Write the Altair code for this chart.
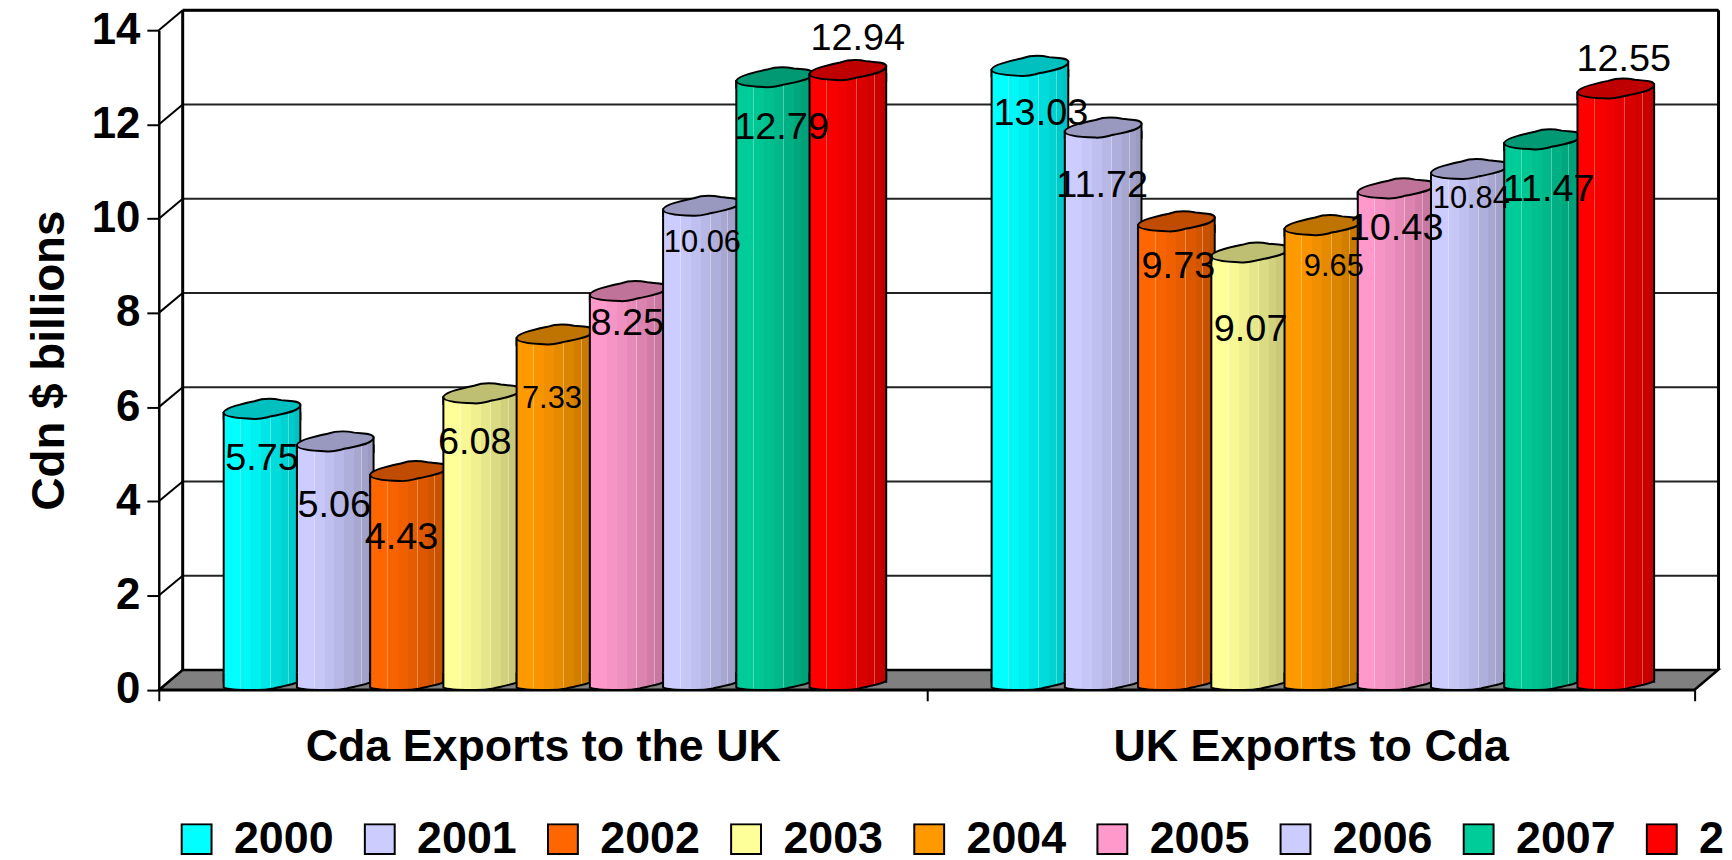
import altair as alt
import pandas as pd

YEARS = ["2000", "2001", "2002", "2003", "2004", "2005", "2006", "2007", "2008"]
GROUPS = ["Cda Exports to the UK", "UK Exports to Cda"]
CDA_TO_UK = [5.75, 5.06, 4.43, 6.08, 7.33, 8.25, 10.06, 12.79, 12.94]
UK_TO_CDA = [13.03, 11.72, 9.73, 9.07, 9.65, 10.43, 10.84, 11.47, 12.55]
COLORS = ["#00FFFF", "#CCCCFF", "#FF6600", "#FFFF99", "#FF9900", "#FF99CC", "#CCCCFF", "#00CC99", "#FF0000"]
GRID_VALUES = [0, 2, 4, 6, 8, 10, 12, 14]

# label placement (pixels), separate from the data
LABEL_DX = [[0, -1, -7, -7, -3, -1, 1, 7, 10], [11, -1, 2, 1, 11, 0, 2, 6, 8]]
LABEL_DY = [[40, 55, 57, 40, 55, 23, 27, 41, -41], [38, 49, 36, 68, 32, 31, 20, 41, -39]]
LABEL_SIZE = [[38, 38, 38, 38, 31, 38, 31, 38, 38], [38, 38, 38, 38, 31, 38, 31, 38, 38]]

W, H = 1543, 662.7
UNIT = H / 14
DEPTH_X, DEPTH_Y = 24, 20
BAR_W = 77
FONT = "Liberation Sans"

rows = []
for gi, (g, vals) in enumerate(zip(GROUPS, [CDA_TO_UK, UK_TO_CDA])):
    for yi, (yr, v) in enumerate(zip(YEARS, vals)):
        rows.append({"group": g, "year": yr, "value": v, "label": f"{v:.2f}",
                     "gi": gi, "yi": yi})
df = pd.DataFrame(rows)


def shade(hexc, f, light=0.0):
    c = [int(hexc[i:i + 2], 16) for i in (1, 3, 5)]
    c = [x * f for x in c]
    c = [x + (255 - x) * light for x in c]
    return "#%02X%02X%02X" % tuple(int(round(x)) for x in c)


FACETS = [(0.0, 0.23, 1.0), (0.23, 0.36, 0.97), (0.36, 0.49, 0.94), (0.49, 0.62, 0.90),
          (0.62, 0.75, 0.86), (0.75, 0.85, 0.82), (0.85, 0.93, 0.79), (0.93, 1.0, 0.76)]


def gradient(hexc):
    stops = []
    for i, (a, b, f) in enumerate(FACETS):
        col = shade(hexc, f)
        stops.append(alt.GradientStop(offset=a, color=col))
        if i in (0, 3, 5):
            stops.append(alt.GradientStop(offset=b - 0.012, color=col))
            stops.append(alt.GradientStop(offset=b - 0.012, color=shade(hexc, f, 0.3)))
            stops.append(alt.GradientStop(offset=b, color=shade(hexc, f, 0.3)))
        else:
            stops.append(alt.GradientStop(offset=b, color=col))
    return alt.Gradient(gradient="linear", x1=0, x2=1, y1=0, y2=0, stops=stops)


TOP_SHAPE = ("M-1,.1 C-1,-.02 -.6,-.12 -.2,-.2 C0,-.27 .3,-.27 .5,-.23 C.7,-.2 1,-.22 1,-.1 "
             "C1,.05 .6,.12 .3,.18 C.1,.22 0,.27 -.2,.26 C-.5,.25 -1,.22 -1,.1 Z")
COLLAR_SHAPE = "M1,.3 L1,-.1 L-1,.1 L-1,.3"
BOTTOM_SHAPE = "M1,-.3 L1,-.1 C1,-.02 .6,.05 .3,.12 C.1,.16 -.1,.17 -.3,.16 C-.6,.16 -.85,.16 -1,.1 L-1,-.3"
h = 20 / 783
FLOOR_SHAPE = "M-1,%f L.97,%f L1,%f L-.97,%f Z" % (h * .5, h * .5, -h * .5, -h * .5)

x_scale = alt.Scale(domain=GROUPS, paddingInner=0, paddingOuter=0)
y_scale = alt.Scale(domain=[0, 14], nice=False, zero=False)
off_scale = alt.Scale(domain=YEARS, paddingInner=0, paddingOuter=0.743, align=0.612)

X = alt.X("group:N", scale=x_scale, sort=GROUPS, title=None,
          axis=alt.Axis(tickBand="extent", labelAngle=0, labelFont=FONT, labelFontSize=45,
                        labelFontWeight="bold", labelColor="black", labelPadding=24,
                        tickSize=11, tickColor="black", tickWidth=2, domainColor="black",
                        domainWidth=2.5, labelLimit=900, zindex=1, grid=False))
Y_AXIS = alt.Axis(values=GRID_VALUES, labelFont=FONT, labelFontSize=44, labelFontWeight="bold",
                  labelColor="black", labelPadding=7, tickSize=12, tickColor="black", tickWidth=2,
                  domainColor="black", domainWidth=2.5, grid=False, zindex=1,
                  title="Cdn $ billions", titleFont=FONT, titleFontSize=46,
                  titleFontWeight="bold", titleColor="black", titlePadding=18)
Y = alt.Y("value:Q", scale=y_scale, axis=Y_AXIS)
XO = alt.XOffset("year:N", scale=off_scale, sort=YEARS)

grid_df = pd.DataFrame({"v": GRID_VALUES})
grid_df["back"] = grid_df["v"] + DEPTH_Y / UNIT

floor = alt.Chart(pd.DataFrame({"v": [0]})).mark_point(
    shape=FLOOR_SHAPE, filled=True, fill="#808080", stroke="black", strokeWidth=2.5, opacity=1,
    size=(2 * 783) ** 2
).encode(x=alt.value((W + DEPTH_X) / 2), y=alt.Y("v:Q", scale=y_scale, axis=Y_AXIS),
         yOffset=alt.value(-DEPTH_Y / 2))

# a zero-size layer that carries the real x axis and the legend
legend_layer = alt.Chart(df).mark_point(size=0, filled=True, shape="square", opacity=1).encode(
    x=X, y=Y, xOffset=XO,
    color=alt.Color("year:N", scale=alt.Scale(domain=YEARS, range=COLORS), sort=YEARS,
                    legend=alt.Legend(orient="none", legendX=15.5, legendY=796.7, direction="horizontal",
                                      columns=9, title=None, symbolType="square", symbolSize=900,
                                      symbolStrokeColor="black", symbolStrokeWidth=2, symbolOpacity=1,
                                      labelFont=FONT, labelFontSize=45, labelFontWeight="bold",
                                      labelColor="black", labelOffset=15, columnPadding=23,
                                      padding=0, labelLimit=300, clipHeight=32)))

wall_lines = alt.Chart(grid_df).mark_rule(color="#222222", strokeWidth=2).encode(
    x=alt.value(DEPTH_X), x2=alt.value(W + DEPTH_X),
    y=alt.Y("back:Q", scale=y_scale, axis=Y_AXIS))
diagonals = alt.Chart(grid_df).mark_rule(color="black", strokeWidth=2).encode(
    x=alt.value(0), x2=alt.value(DEPTH_X),
    y=alt.Y("v:Q", scale=y_scale, axis=Y_AXIS), y2="back:Q")
frame_df = pd.DataFrame({"lo": [0 + DEPTH_Y / UNIT], "hi": [14 + DEPTH_Y / UNIT]})
wall_left = alt.Chart(frame_df).mark_rule(color="black", strokeWidth=3).encode(
    x=alt.value(DEPTH_X), y=alt.Y("lo:Q", scale=y_scale, axis=Y_AXIS), y2="hi:Q")
wall_right = alt.Chart(frame_df).mark_rule(color="black", strokeWidth=3).encode(
    x=alt.value(W + DEPTH_X), y=alt.Y("lo:Q", scale=y_scale, axis=Y_AXIS), y2="hi:Q")
wall_top = alt.Chart(frame_df).mark_rule(color="black", strokeWidth=3).encode(
    x=alt.value(DEPTH_X), x2=alt.value(W + DEPTH_X), y=alt.Y("hi:Q", scale=y_scale, axis=Y_AXIS))

layers = [wall_lines, wall_left, wall_right, wall_top, floor, diagonals]

SIZE = BAR_W ** 2
for yr, col in zip(YEARS, COLORS):
    sub = alt.Chart(df).transform_filter(alt.datum.year == yr)
    grad = gradient(col)
    body = sub.mark_bar(width=BAR_W, fill=grad, stroke="black", strokeWidth=2, opacity=1,
                        yOffset=-6, y2Offset=-8).encode(
        x=X, xOffset=XO, y=Y, y2=alt.datum(0))
    base = sub.mark_point(shape=BOTTOM_SHAPE, filled=True, fill=grad, stroke="black", strokeWidth=2,
                          opacity=1, size=SIZE, yOffset=-6).encode(
        x=X, xOffset=XO, y=alt.Y("zero:Q", scale=y_scale, axis=Y_AXIS)).transform_calculate(zero="0")
    collar = sub.mark_point(shape=COLLAR_SHAPE, filled=True, fill=grad, stroke="black", strokeWidth=2,
                            opacity=1, size=SIZE, yOffset=-10).encode(x=X, xOffset=XO, y=Y)
    top = sub.mark_point(shape=TOP_SHAPE, filled=True, fill=shade(col, 0.75), stroke="black",
                         strokeWidth=2, opacity=1, size=SIZE, yOffset=-10).encode(x=X, xOffset=XO, y=Y)
    layers += [body, base, collar, top]

layers.append(legend_layer)

for gi in range(2):
    for yi in range(9):
        one = alt.Chart(df).transform_filter((alt.datum.gi == gi) & (alt.datum.yi == yi))
        layers.append(one.mark_text(font=FONT, fontSize=LABEL_SIZE[gi][yi], color="black",
                                    dx=LABEL_DX[gi][yi], dy=LABEL_DY[gi][yi], baseline="middle",
                                    align="center").encode(x=X, xOffset=XO, y=Y, text="label:N"))

chart = alt.layer(*layers).properties(
    width=W, height=H,
    autosize=alt.AutoSizeParams(type="none"),
    padding={"left": 151.5, "top": 20.3, "right": 29.5, "bottom": 169},
    background="white",
).configure_view(stroke=None)

chart.save("out.html", embed_options={"renderer": "svg", "actions": False})
